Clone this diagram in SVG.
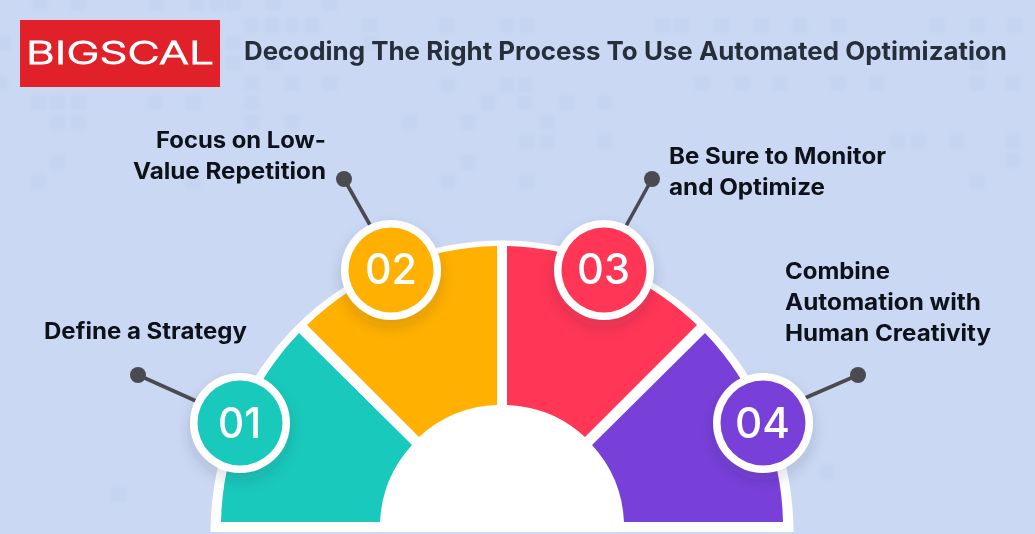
<svg xmlns="http://www.w3.org/2000/svg" width="1035" height="534" viewBox="0 0 1035 534">
<defs>
<style>
.bgs rect{width:14px;height:14px;fill:#b6c7e8;opacity:.22}
.lbl{font-family:"Inter","Liberation Sans",sans-serif;font-weight:700;font-size:22.5px;fill:#0d111a}
.ttl{font-family:"Inter","Liberation Sans",sans-serif;font-weight:700;font-size:25.5px;fill:#262e3b}
.num{font-family:"Inter","Liberation Sans",sans-serif;font-weight:500;font-size:42px;fill:#fff}
.ring{fill:#fff;filter:url(#sh)}
.pin{fill:#4a4b50}
.con{stroke:#4a4b50;stroke-width:3.6;fill:none}
.logo{font-family:"Inter","Liberation Sans",sans-serif;font-weight:300;font-size:31px;fill:#fff;stroke:#fff;stroke-width:.9}
</style>
<filter id="sh" x="-30%" y="-30%" width="160%" height="170%"><feDropShadow dx="0" dy="7" stdDeviation="7" flood-color="#20283c" flood-opacity=".16"/></filter>
<filter id="sb"><feGaussianBlur stdDeviation="1.5"/></filter>
</defs>
<rect width="1035" height="534" fill="#cad8f3"/>
<g class="bgs" filter="url(#sb)">
<rect x="33" y="-4"/><rect x="71" y="-4"/><rect x="150" y="-4"/><rect x="190" y="-4"/><rect x="210" y="-4"/><rect x="226" y="-4"/><rect x="266" y="-4"/><rect x="323" y="-4"/>
<rect x="245" y="18"/><rect x="265" y="18"/><rect x="285" y="18"/><rect x="305" y="18"/><rect x="363" y="18"/><rect x="440" y="18"/><rect x="500" y="18"/><rect x="520" y="18"/><rect x="655" y="18"/><rect x="675" y="18"/><rect x="715" y="18"/><rect x="755" y="18"/><rect x="793" y="18"/><rect x="831" y="18"/><rect x="930" y="18"/><rect x="970" y="18"/><rect x="1008" y="18"/>
<rect x="-4" y="36"/><rect x="226" y="36"/><rect x="363" y="36"/>
<rect x="226" y="56"/><rect x="266" y="56"/><rect x="970" y="56"/>
<rect x="-7" y="76"/><rect x="245" y="76"/><rect x="285" y="76"/><rect x="323" y="76"/><rect x="441" y="78"/><rect x="500" y="78"/><rect x="518" y="78"/><rect x="695" y="76"/><rect x="735" y="76"/><rect x="773" y="76"/><rect x="831" y="76"/><rect x="870" y="76"/><rect x="970" y="76"/><rect x="1006" y="76"/>
<rect x="31" y="96"/><rect x="51" y="96"/><rect x="71" y="96"/><rect x="148" y="96"/><rect x="186" y="96"/><rect x="245" y="96"/><rect x="481" y="96"/><rect x="518" y="96"/><rect x="560" y="96"/><rect x="598" y="96"/>
<rect x="51" y="115"/><rect x="71" y="115"/><rect x="245" y="115"/><rect x="285" y="115"/><rect x="403" y="115"/><rect x="461" y="115"/><rect x="540" y="115"/>
<rect x="520" y="135"/><rect x="540" y="135"/><rect x="598" y="135"/><rect x="891" y="135"/><rect x="911" y="135"/><rect x="950" y="135"/><rect x="1006" y="135"/>
<rect x="51" y="155"/><rect x="461" y="155"/><rect x="1006" y="153"/>
<rect x="31" y="175"/><rect x="186" y="175"/><rect x="441" y="175"/><rect x="520" y="175"/><rect x="970" y="175"/>
<rect x="111" y="488"/><rect x="820" y="465"/>
</g>
<g id="logo">
<rect x="20" y="20" width="200" height="67" fill="#e1212a"/>
<text class="logo" x="26" y="64" textLength="188" lengthAdjust="spacingAndGlyphs">BIGSCAL</text>
</g>
<text id="title" class="ttl" x="244" y="60" textLength="763" lengthAdjust="spacingAndGlyphs">Decoding The Right Process To Use Automated Optimization</text>
<g id="connectors">
<path class="con" d="M138 375L196 401"/>
<path class="con" d="M344 179L370 225"/>
<path class="con" d="M652 179L626 226"/>
<path class="con" d="M858 375L805 398"/>
<circle class="pin" cx="138" cy="375" r="8"/>
<circle class="pin" cx="344" cy="179" r="8"/>
<circle class="pin" cx="652" cy="179" r="8"/>
<circle class="pin" cx="858" cy="375" r="8"/>
</g>
<g id="dial">
<path d="M210.500 532A291.500 291.500 0 0 1 793.500 532Z" fill="#fff"/>
<path d="M221 522A281 281 0 0 1 299 333L412 445A122 122 0 0 0 380 522Z" fill="#19c9bb"/>
<path d="M307 325A281 281 0 0 1 497 246.100V405.100A122 122 0 0 0 419 437Z" fill="#ffb000"/>
<path d="M507 246.100A281 281 0 0 1 697 325L585 437A122 122 0 0 0 507 405.100Z" fill="#ff3656"/>
<path d="M705 333A281 281 0 0 1 783 522H624A122 122 0 0 0 592 445Z" fill="#7840d8"/>
</g>
<g id="node-01"><circle class="ring" cx="240" cy="423" r="50"/><circle cx="240" cy="423" r="42.500" fill="#19c9bb"/><text class="num" x="218" y="438" textLength="43" lengthAdjust="spacingAndGlyphs">01</text></g>
<g id="node-02"><circle class="ring" cx="391" cy="270" r="50"/><circle cx="391" cy="270" r="42.500" fill="#ffb000"/><text class="num" x="365" y="284" textLength="52" lengthAdjust="spacingAndGlyphs">02</text></g>
<g id="node-03"><circle class="ring" cx="604" cy="270" r="50"/><circle cx="604" cy="270" r="42.500" fill="#ff3656"/><text class="num" x="577" y="284" textLength="53" lengthAdjust="spacingAndGlyphs">03</text></g>
<g id="node-04"><circle class="ring" cx="763" cy="423" r="50"/><circle cx="763" cy="423" r="42.500" fill="#7840d8"/><text class="num" x="735" y="438" textLength="55" lengthAdjust="spacingAndGlyphs">04</text></g>
<g id="label-01"><text class="lbl" x="44" y="339" textLength="203" lengthAdjust="spacingAndGlyphs">Define a Strategy</text></g>
<g id="label-02"><text class="lbl" x="156" y="148" textLength="170" lengthAdjust="spacingAndGlyphs">Focus on Low-</text><text class="lbl" x="133" y="179" textLength="193" lengthAdjust="spacingAndGlyphs">Value Repetition</text></g>
<g id="label-03"><text class="lbl" x="669" y="164" textLength="217" lengthAdjust="spacingAndGlyphs">Be Sure to Monitor</text><text class="lbl" x="669" y="195" textLength="156" lengthAdjust="spacingAndGlyphs">and Optimize</text></g>
<g id="label-04"><text class="lbl" x="785" y="279" textLength="105" lengthAdjust="spacingAndGlyphs">Combine</text><text class="lbl" x="785" y="310" textLength="196" lengthAdjust="spacingAndGlyphs">Automation with</text><text class="lbl" x="785" y="341" textLength="206" lengthAdjust="spacingAndGlyphs">Human Creativity</text></g>
</svg>
